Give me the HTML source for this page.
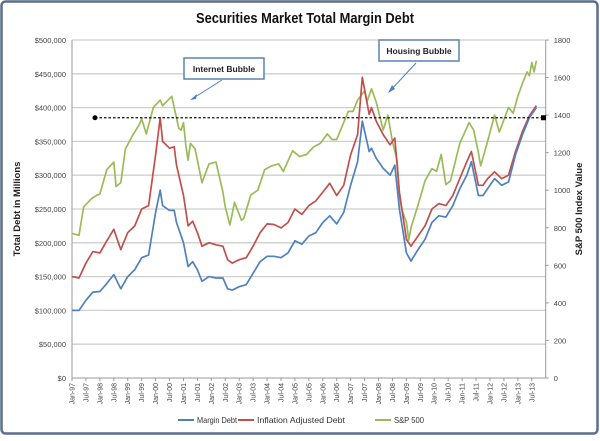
<!DOCTYPE html>
<html><head><meta charset="utf-8"><style>
html,body{margin:0;padding:0;background:#fff;}
body{width:600px;height:436px;overflow:hidden;font-family:"Liberation Sans",sans-serif;}
</style></head><body>
<svg id="chart" width="600" height="436" xmlns="http://www.w3.org/2000/svg" font-family="Liberation Sans, sans-serif">
<rect x="1.5" y="1.5" width="596" height="432" rx="4" fill="#fff" stroke="#5a6f8a" stroke-width="2.5"/>
<text x="305" y="23" text-anchor="middle" font-size="14.5" font-weight="bold" fill="#111" textLength="218" lengthAdjust="spacingAndGlyphs">Securities Market Total Margin Debt</text>
<g id="grid"></g><g id="axes"></g><g id="series"></g>
<text transform="translate(20,209) rotate(-90)" text-anchor="middle" font-size="9.5" font-weight="bold" fill="#222">Total Debt in Millions</text>
<text transform="translate(582,209) rotate(-90)" text-anchor="middle" font-size="9.5" font-weight="bold" fill="#222">S&amp;P 500 Index Value</text>
<g>
<rect x="184" y="58" width="80" height="21" fill="#fff" stroke="#5b82b5" stroke-width="1.5"/>
<text x="224" y="72" text-anchor="middle" font-size="8.5" font-weight="bold" fill="#222">Internet Bubble</text>
<line x1="222" y1="80" x2="192" y2="99" stroke="#4f7fc0" stroke-width="1"/>
<path d="M190 100 L197 94 L196 99 Z" fill="#4f7fc0"/>
</g>
<g>
<rect x="379" y="40" width="80" height="21" fill="#fff" stroke="#5b82b5" stroke-width="1.5"/>
<text x="419" y="54" text-anchor="middle" font-size="8.5" font-weight="bold" fill="#222">Housing Bubble</text>
<line x1="416" y1="63" x2="390" y2="91" stroke="#4f7fc0" stroke-width="1"/>
<path d="M388 93 L392 85 L395 89 Z" fill="#4f7fc0"/>
</g>
<g font-size="8.5" fill="#333">
<line x1="178" y1="420" x2="194" y2="420" stroke="#4f81bd" stroke-width="2"/><text x="197" y="423" textLength="40" lengthAdjust="spacingAndGlyphs">Margin Debt</text>
<line x1="238" y1="420" x2="254" y2="420" stroke="#c0504d" stroke-width="2"/><text x="257" y="423" textLength="88" lengthAdjust="spacingAndGlyphs">Inflation Adjusted Debt</text>
<line x1="375" y1="420" x2="391" y2="420" stroke="#9bbb59" stroke-width="2"/><text x="394" y="423" textLength="30" lengthAdjust="spacingAndGlyphs">S&amp;P 500</text>
</g>
</svg>
<script>
const leftTicks=[0,50,100,150,200,250,300,350,400,450,500];
const rightTicks=[0,200,400,600,800,1000,1200,1400,1600,1800];
const xLabels=["Jan-97","Jul-97","Jan-98","Jul-98","Jan-99","Jul-99","Jan-00","Jul-00","Jan-01","Jul-01","Jan-02","Jul-02","Jan-03","Jul-03","Jan-04","Jul-04","Jan-05","Jul-05","Jan-06","Jul-06","Jan-07","Jul-07","Jan-08","Jul-08","Jan-09","Jul-09","Jan-10","Jul-10","Jan-11","Jul-11","Jan-12","Jul-12","Jan-13","Jul-13"];
const debtDates=["97-01","97-04","97-07","97-10","98-01","98-04","98-07","98-10","99-01","99-04","99-07","99-10","00-01","00-03","00-04","00-07","00-09","00-10","01-01","01-03","01-05","01-07","01-09","01-12","02-03","02-06","02-08","02-10","03-01","03-04","03-07","03-10","04-01","04-04","04-07","04-10","05-01","05-04","05-07","05-10","06-01","06-04","06-07","06-10","07-01","07-04","07-06","07-09","07-10","07-12","08-03","08-06","08-08","08-10","09-01","09-03","09-06","09-09","09-12","10-03","10-06","10-09","10-12","11-03","11-05","11-08","11-10","11-12","12-03","12-06","12-09","12-12","13-03","13-06","13-09"];
const marginDebt=[100,100,115,127,128,140,153,132,150,160,178,182,245,278,255,248,248,230,200,165,172,160,143,150,148,148,132,130,135,138,155,172,180,180,178,185,203,198,210,215,230,240,228,245,285,320,380,335,340,325,310,300,315,250,185,173,190,205,230,240,238,255,280,300,320,270,270,280,295,285,290,330,360,385,400];
const inflationDebt=[150,148,170,187,185,203,220,190,215,225,250,255,330,385,350,340,342,315,270,225,232,215,195,200,197,195,175,170,175,178,195,215,228,227,222,230,250,242,255,262,275,288,270,285,330,360,445,390,400,380,360,345,355,275,205,195,210,225,250,258,255,270,295,320,335,285,285,295,305,295,300,335,365,388,403];
const spDates=["97-01","97-04","97-06","97-09","97-10","97-12","98-01","98-04","98-07","98-08","98-10","98-12","99-03","99-06","99-07","99-09","99-12","00-03","00-04","00-08","00-09","00-11","00-12","01-01","01-02","01-03","01-04","01-06","01-09","01-12","02-03","02-06","02-07","02-09","02-11","03-02","03-03","03-06","03-09","03-12","04-03","04-06","04-08","04-12","05-03","05-06","05-09","05-12","06-03","06-05","06-07","06-12","07-02","07-04","07-07","07-08","07-10","07-12","08-03","08-05","08-07","08-09","08-10","08-11","09-01","09-02","09-03","09-06","09-09","09-12","10-02","10-04","10-06","10-08","10-12","11-04","11-06","11-08","11-09","11-12","12-03","12-05","12-09","12-11","13-01","13-03","13-05","13-06","13-07","13-08","13-09"];
const sp500=[770,760,910,950,960,975,980,1110,1150,1020,1040,1220,1290,1350,1380,1300,1440,1480,1450,1500,1440,1330,1320,1360,1240,1160,1250,1220,1040,1140,1150,990,910,815,935,840,850,975,1000,1110,1130,1140,1100,1210,1180,1190,1230,1250,1300,1270,1270,1420,1420,1480,1530,1470,1540,1470,1320,1400,1260,1160,970,900,830,735,800,920,1050,1115,1100,1190,1030,1050,1250,1360,1320,1200,1130,1260,1400,1310,1440,1410,1500,1570,1630,1610,1680,1630,1690];
const refLevel=385;

const NS="http://www.w3.org/2000/svg";
const X0=72,X1=545.7,Y0=378,Y1=40,MONTHS=204;
function monthIdx(s){const p=s.split("-");return (parseInt(p[0],10)+100-97)%100*12+parseInt(p[1],10)-1;}
function xS(m){return X0+(X1-X0)*m/MONTHS;}
function yL(v){return Y0-(Y0-Y1)*v/500;}
function yR(v){return Y0-(Y0-Y1)*v/1800;}
function mk(tag,attrs,parent){const e=document.createElementNS(NS,tag);for(const k in attrs)e.setAttribute(k,attrs[k]);parent.appendChild(e);return e;}
const grid=document.getElementById("grid"),axes=document.getElementById("axes"),ser=document.getElementById("series");
leftTicks.forEach(t=>{
  if(t>0){const g=mk("line",{x1:X0,x2:X1,y1:yL(t),y2:yL(t),stroke:"#cfcfcf","stroke-width":1.3},grid);
  
  }
  const tx=mk("text",{x:X0-6,y:yL(t)+3,"text-anchor":"end","font-size":7.5,fill:"#444"},axes);
  tx.textContent="$"+(t===0?"0":t+",000");
  
  
});
rightTicks.forEach(t=>{
  const tx=mk("text",{x:X1+8,y:yR(t)+3,"font-size":7.5,fill:"#444"},axes);
  tx.textContent=t;
  
  
  mk("line",{x1:X1,x2:X1+3,y1:yR(t),y2:yR(t),stroke:"#999"},axes);
});
mk("line",{x1:X0,x2:X0,y1:Y1,y2:Y0,stroke:"#999"},axes);
mk("line",{x1:X1,x2:X1,y1:Y1,y2:Y0,stroke:"#999"},axes);
mk("line",{x1:X0,x2:X1,y1:Y0,y2:Y0,stroke:"#999"},axes);
xLabels.forEach((l,i)=>{
  const x=xS(i*6);
  mk("line",{x1:x,x2:x,y1:Y0,y2:Y0+3,stroke:"#999"},axes);
  const tx=mk("text",{transform:`translate(${x+2.5},${Y0+5}) rotate(-90)`,"text-anchor":"end","font-size":7,fill:"#444"},axes);
  tx.textContent=l;
  
  
});
function line(dates,vals,ys,color,name){
  const d=dates.map((s,i)=>(i?"L":"M")+xS(monthIdx(s)).toFixed(1)+" "+ys(vals[i]).toFixed(1)).join(" ");
  const p=mk("path",{d:d,fill:"none",stroke:color,"stroke-width":1.7,"stroke-linejoin":"round"},ser);
  
  
}
line(spDates,sp500,yR,"#9bbb59","sp500-line");
line(debtDates,inflationDebt,yL,"#c0504d","inflation-adjusted-debt-line");
line(debtDates,marginDebt,yL,"#4f81bd","margin-debt-line");
const rl=mk("line",{x1:95,x2:543,y1:yL(refLevel),y2:yL(refLevel),stroke:"#111","stroke-width":1.2,"stroke-dasharray":"2.5,2"},ser);


const c1=mk("circle",{cx:95,cy:yL(refLevel),r:2.5,fill:"#000"},ser);


const c2=mk("rect",{x:541,y:yL(refLevel)-2.5,width:5,height:5,fill:"#000"},ser);


</script>
</body></html>
